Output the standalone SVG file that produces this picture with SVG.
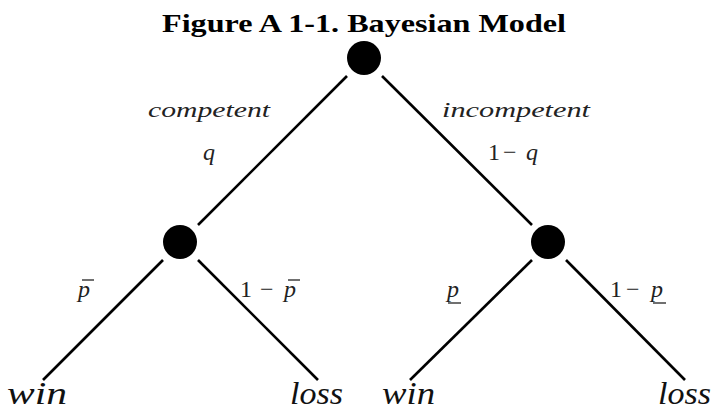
<svg xmlns="http://www.w3.org/2000/svg" width="713" height="412" viewBox="0 0 713 412">
<style>
text{font-family:"Liberation Serif",Tinos,"Times New Roman",Times,serif}
.title{font-weight:bold;font-size:25px;fill:#000}
.lbl{font-style:italic;font-size:22px;fill:#222}
.math{font-size:24px;fill:#222}
.mi{font-style:italic}
.leaf{font-style:italic;font-size:31px;fill:#111}
.edge{stroke:#000;stroke-width:2.6;fill:none}
.bar{stroke:#222;stroke-width:1.3}
.node{fill:#000}
</style>
<rect width="713" height="412" fill="#fff"/>
<text class="title" x="364" y="32" text-anchor="middle" textLength="404" lengthAdjust="spacingAndGlyphs">Figure A 1-1. Bayesian Model</text>
<g id="connectors">
<line class="edge" x1="347" y1="76" x2="198" y2="225"/>
<line class="edge" x1="382" y1="76" x2="532" y2="225"/>
<line class="edge" x1="163" y1="260" x2="43" y2="380"/>
<line class="edge" x1="198" y1="260" x2="318" y2="380"/>
<line class="edge" x1="532" y1="260" x2="410" y2="380"/>
<line class="edge" x1="566" y1="260" x2="685" y2="380"/>
</g>
<g id="root"><circle class="node" cx="364" cy="58" r="17"/></g>
<g id="competent"><circle class="node" cx="180" cy="242" r="17"/></g>
<g id="incompetent"><circle class="node" cx="548" cy="242" r="17"/></g>
<g id="labels">
<text class="lbl" x="148" y="117" textLength="122" lengthAdjust="spacingAndGlyphs">competent</text>
<text class="math mi" x="203" y="160">q</text>
<text class="lbl" x="442" y="117" textLength="148" lengthAdjust="spacingAndGlyphs">incompetent</text>
<text class="math" x="488" y="160">1</text>
<text class="math" x="503" y="160">−</text>
<text class="math mi" x="526" y="160">q</text>
<text class="math mi" x="78" y="297">p</text>
<line class="bar" x1="82" y1="280" x2="94" y2="280"/>
<text class="math" x="240" y="297">1</text>
<text class="math" x="260" y="297">−</text>
<text class="math mi" x="284" y="297">p</text>
<line class="bar" x1="288" y1="280" x2="300" y2="280"/>
<text class="math mi" x="447" y="297">p</text>
<line class="bar" x1="448" y1="303" x2="461" y2="303"/>
<text class="math" x="610" y="297">1</text>
<text class="math" x="626" y="297">−</text>
<text class="math mi" x="651" y="297">p</text>
<line class="bar" x1="653" y1="303" x2="666" y2="303"/>
</g>
<g id="leaf-win-1"><text class="leaf" x="7" y="404" textLength="60" lengthAdjust="spacingAndGlyphs">win</text></g>
<g id="leaf-loss-1"><text class="leaf" x="290" y="404" textLength="53" lengthAdjust="spacingAndGlyphs">loss</text></g>
<g id="leaf-win-2"><text class="leaf" x="382" y="404" textLength="53" lengthAdjust="spacingAndGlyphs">win</text></g>
<g id="leaf-loss-2"><text class="leaf" x="658" y="404" textLength="53" lengthAdjust="spacingAndGlyphs">loss</text></g>
</svg>
